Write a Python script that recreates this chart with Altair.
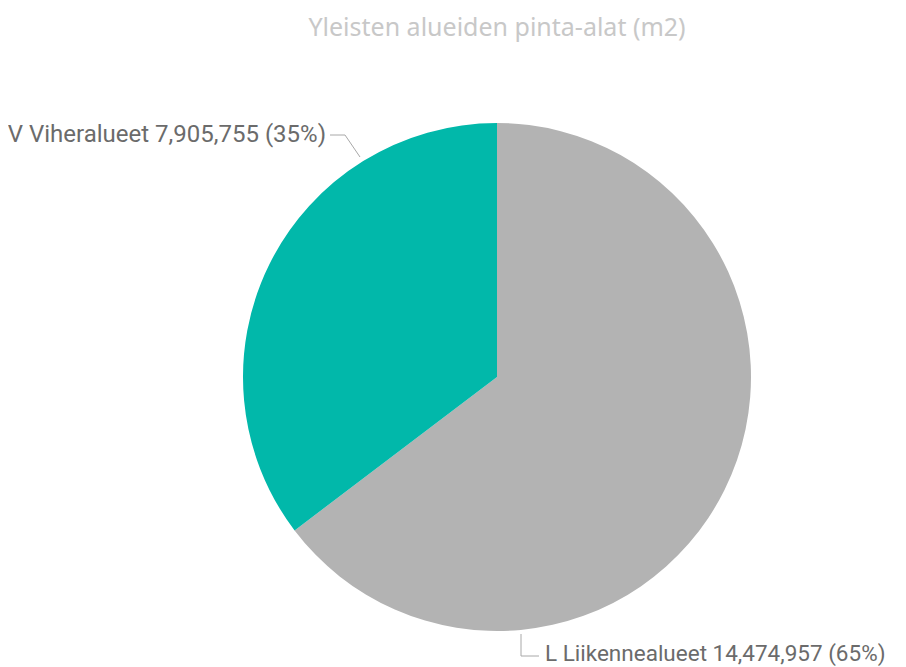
import altair as alt
import pandas as pd

categories = ["L Liikennealueet", "V Viheralueet"]
values = [14474957, 7905755]
order_idx = [0, 1]
colors = ["#B3B3B3", "#01B8AA"]

df = pd.DataFrame({"category": categories, "value": values, "idx": order_idx})

base = alt.Chart(df).transform_joinaggregate(total="sum(value)").transform_calculate(
    label="datum.category + ' ' + format(datum.value, ',') + ' (' + format(datum.value / datum.total, '.0%') + ')'"
)

pie = base.mark_arc(outerRadius=254, strokeWidth=0).encode(
    theta=alt.Theta("value:Q", stack=True),
    color=alt.Color("category:N", scale=alt.Scale(domain=categories, range=colors), legend=None),
    order=alt.Order("idx:O"),
    x=alt.value(489),
    y=alt.value(319),
)

label_font = "Roboto"
label_color = "#6b6b6b"

lab_v = base.transform_filter(alt.datum.category == categories[1]).mark_text(
    align="right", baseline="middle", font=label_font, fontSize=24, color=label_color
).encode(text="label:N", x=alt.value(318), y=alt.value(77))

lab_l = base.transform_filter(alt.datum.category == categories[0]).mark_text(
    align="left", baseline="middle", font=label_font, fontSize=22.5, color=label_color
).encode(text="label:N", x=alt.value(537), y=alt.value(596))

line_color = "#a8a8a8"
def seg(x1, y1, x2, y2):
    return alt.Chart(df.head(1)).mark_rule(color=line_color, strokeWidth=1).encode(
        x=alt.value(x1), y=alt.value(y1), x2=alt.value(x2), y2=alt.value(y2)
    )

lines = seg(322, 77, 337, 77) + seg(337, 77, 352, 99) + seg(513, 576, 513, 598) + seg(513, 598, 531, 598)

chart = alt.layer(pie, lines, lab_v, lab_l).properties(
    width=890,
    height=601,
    padding={"left": 0, "top": 50, "right": 0, "bottom": 8},
    autosize="none",
    title=alt.TitleParams(
        "Yleisten alueiden pinta-alat (m2)",
        font="Noto Sans",
        fontSize=25,
        fontWeight="normal",
        color="#c8c8c8",
        anchor="middle",
        dx=44,
        offset=17,
    ),
).configure_view(stroke=None)

chart.save("out.html", embed_options={"renderer": "svg", "actions": False})
